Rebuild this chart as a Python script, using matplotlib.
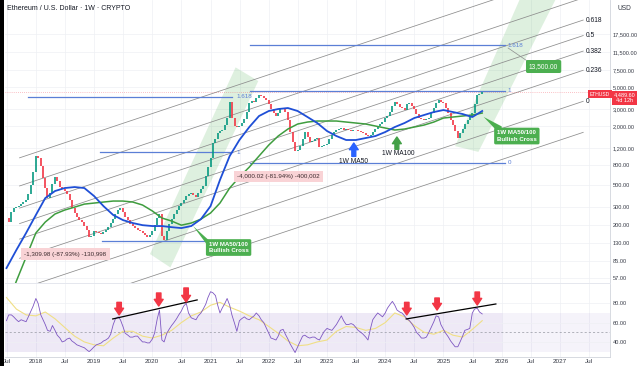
import numpy as np
import pandas as pd
import matplotlib
matplotlib.use('Agg')
import matplotlib.pyplot as plt
from matplotlib.patches import Polygon, Rectangle

plt.rcParams['font.family'] = ['Liberation Sans', 'DejaVu Sans']

# semi-monthly closes, Jul 2017 -> Sep 2025
closes = [233, 212, 268, 294, 301, 308, 323, 339, 355, 409,
          505, 685, 998, 952, 789, 595, 471, 372, 418, 517,
          609, 555, 482, 460, 439, 409, 355, 294, 262, 238,
          222, 212, 193, 175, 149, 152, 171, 168, 164, 160,
          167, 175, 188, 207, 227, 256, 281, 294, 268, 238,
          222, 202, 193, 184, 175, 171, 164, 156, 149, 156,
          171, 197, 233, 256, 152, 139, 171, 202, 227, 256,
          281, 308, 331, 355, 390, 409, 418, 399, 381, 418,
          460, 493, 624, 770, 952, 1354, 1487, 1712, 1795, 1837,
          2066, 2435, 3546, 2435, 2018, 1970, 2018, 2166, 2379, 2804,
          3464, 3631, 3560, 3896, 4180, 4083, 3896, 3717, 3383, 3008,
          2738, 2553, 2738, 3008, 3080, 2804, 2323, 1753, 1386, 1122,
          1149, 1262, 1487, 1753, 1559, 1386, 1419, 1487, 1523, 1233,
          1260, 1290, 1320, 1487, 1634, 1753, 1837, 1881, 1926, 1860,
          1881, 1837, 1795, 1837, 1850, 1795, 1753, 1712, 1634, 1596,
          1634, 1753, 1881, 2018, 2115, 2217, 2435, 2553, 2804, 3228,
          3546, 3383, 3153, 3080, 2938, 3383, 3464, 3228, 3008, 2675,
          2435, 2379, 2323, 2379, 2435, 2738, 3080, 3464, 3717, 3546,
          3464, 3080, 2738, 2323, 2066, 1795, 1523, 1712, 1881, 2115,
          2323, 2493, 2738, 3383, 4180, 4279, 4489.6]

rsi = [62, 68, 68, 66, 63, 61, 63, 62, 61, 66,
       72, 77, 85, 80, 68, 63, 58, 52, 51, 57,
       52, 47, 44, 40, 41, 43, 44, 41, 39, 37,
       36, 35, 34, 32, 30, 32, 35, 37, 38, 39,
       41, 42, 44, 48, 58, 64, 66, 63, 56, 49,
       47, 45, 45, 46, 46, 43, 40, 40, 39, 39,
       43, 49, 64, 73, 42, 40, 49, 53, 57, 60,
       64, 68, 72, 77, 80, 70, 65, 64, 63, 67,
       70, 74, 79, 86, 92, 91, 88, 78, 70, 75,
       80, 85, 78, 68, 59, 51, 62, 64, 66, 64,
       63, 65, 67, 70, 67, 63, 60, 55, 49, 44,
       43, 42, 46, 52, 53, 48, 43, 38, 33, 29,
       35, 40, 46, 47, 45, 44, 45, 45, 43, 42,
       47, 51, 54, 53, 52, 55, 58, 62, 67, 62,
       58, 58, 59, 58, 55, 52, 50, 48, 45, 42,
       54, 63, 67, 70, 68, 66, 70, 75, 79, 82,
       78, 73, 71, 70, 67, 64, 62, 59, 55, 50,
       47, 44, 44, 45, 50, 55, 61, 67, 66, 58,
       53, 49, 45, 41, 38, 35, 35, 40, 46, 52,
       53, 54, 70, 74, 75, 71, 69]

# two-monthly samples of the smoother lines
rsi_ma = [86, 74, 68, 67, 71, 64, 55, 46, 40, 37, 36, 44, 51, 51, 46, 44, 47, 52, 60, 67,
          71, 78, 81, 76, 72, 67, 63, 56, 49, 41, 36, 37, 40, 42, 51, 56, 55, 52, 54, 60,
          70, 66, 57, 50, 48, 52, 47, 45, 53, 62]
ma50 = [72, 110, 164, 250, 372, 439, 471, 482, 471, 390, 308, 250, 222, 207, 197, 193, 193, 188, 184, 193,
        227, 308, 569, 998, 1454, 1971, 2553, 2872, 3008, 3080, 2872, 2493, 2166, 1795, 1596, 1454, 1454, 1523, 1596, 1753,
        1971, 2166, 2435, 2615, 2804, 2938, 2804, 2675, 2493, 2872]
ma100 = [29, 53, 93, 164, 212, 256, 281, 301, 323, 331, 339, 347, 347, 339, 316, 275, 233, 217, 197, 207,
         227, 262, 331, 471, 609, 770, 998, 1292, 1596, 1881, 2115, 2217, 2270, 2270, 2270, 2217, 2166, 2115, 2018, 1926,
         1837, 1881, 1971, 2066, 2217, 2435, 2493, 2553, 2615, 2738]

price_ticks = [57, 85, 130, 200, 300, 500, 800, 1200, 2000, 3000, 5000, 7500, 11500, 17500]
time_ticks = [2017.5 + 0.5 * i for i in range(21)]
time_labels = ['Jul' if t % 1 else str(int(t)) for t in time_ticks]

def dec_year(d):
    return np.asarray(d.year + (d.dayofyear - 1) / 365.25, dtype=float)

x = dec_year(pd.date_range('2017-07-01', periods=len(closes), freq='SMS'))
xc = dec_year(pd.date_range('2017-07-01', periods=len(ma50), freq='2MS'))

W, H = 638, 366
fig = plt.figure(figsize=(W / 100, H / 100), dpi=100)
fig.patch.set_facecolor('white')
ax = fig.add_axes([5 / W, 1 - 283 / H, 605 / W, 283 / H])
rx = fig.add_axes([5 / W, 1 - 357 / H, 605 / W, 73 / H], sharex=ax)

grid_c = '#eef0f4'
txt_c = '#363a45'

ax.set_yscale('log')
ax.set_xlim(2017.47, 2027.86)
ax.set_ylim(50.7, 38870)
for t in time_ticks:
    ax.axvline(t, color=grid_c, lw=0.5, zorder=0)
    rx.axvline(t, color=grid_c, lw=0.5, zorder=0)
for p in price_ticks:
    ax.axhline(p, color=grid_c, lw=0.5, zorder=0)
ax.yaxis.tick_right()
ax.set_yticks(price_ticks)
ax.set_yticklabels([f'{p:,.2f}' for p in price_ticks])
ax.yaxis.set_minor_locator(matplotlib.ticker.NullLocator())
ax.tick_params(axis='y', length=0, labelsize=4.1, pad=2.2, colors=txt_c)
ax.tick_params(axis='x', length=0, labelbottom=False)
for s in ['left', 'top']:
    ax.spines[s].set_visible(False)
ax.spines['right'].set_color('#d1d4dc')
ax.spines['bottom'].set_color('#e0e3eb')
ax.spines['right'].set_linewidth(0.6)
ax.spines['bottom'].set_linewidth(0.6)

# green projection bands
band1 = [(2019.96, 100), (2020.31, 73), (2021.82, 5800), (2021.43, 8000)]
band2 = [(2025.20, 1260), (2025.60, 1100), (2026.95, 42000), (2026.33, 42000)]
for b in (band1, band2):
    ax.add_patch(Polygon(b, closed=True, facecolor='#4caf50', alpha=0.18, edgecolor='none', zorder=1))

# fib channel
chan_start, chan_end = 2017.72, 2027.40
chan_p0 = (43.7, 3606)
chan_w = 957 / 43.7
chan_levels = [-0.236, 0, 0.236, 0.382, 0.5, 0.618, 0.786, 1]
chan_labels = {0: '0', 0.236: '0.236', 0.382: '0.382', 0.5: '0.5', 0.618: '0.618'}
for lv in chan_levels:
    f = chan_w ** lv
    ax.plot([chan_start, chan_end], [chan_p0[0] * f, chan_p0[1] * f], color='#8c8c8c', lw=0.55, zorder=2)
    if lv in chan_labels:
        ax.text(chan_end + 0.04, chan_p0[1] * f, chan_labels[lv], fontsize=4.8, color='#131722',
                ha='left', va='center', zorder=6)

# fib retracements (horizontal)
fib_c = '#5b7fd6'
fib1_prices = [136, 1097, 3990]
fib1_labels = ['0', '1', '1.618']
fib1_x = [(2019.13, 2021.37), (2019.10, 2021.37), (2017.86, 2021.37)]
for p, lab, (x0, x1) in zip(fib1_prices, fib1_labels, fib1_x):
    ax.plot([x0, x1], [p, p], color=fib_c, lw=0.9, zorder=2)
    if lab != '0':
        ax.text(x1 + 0.08, p, lab, fontsize=4.5, color=fib_c, va='center', ha='left', zorder=6)
fib2_prices = [853, 4645, 13500]
fib2_labels = ['0', '1', '1.618']
for p, lab in zip(fib2_prices, fib2_labels):
    ax.plot([2021.68, 2026.06], [p, p], color=fib_c, lw=0.9, zorder=2)
    ax.text(2026.10, p, lab, fontsize=4.5, color=fib_c, va='center', ha='left', zorder=6)

# candles
opens = [closes[0]] + closes[:-1]
up = np.array(closes) >= np.array(opens)
lo = np.minimum(opens, closes)
hi = np.maximum(opens, closes)
ax.vlines(x[up], lo[up], hi[up], color='#089981', lw=1.2, zorder=4)
ax.vlines(x[~up], lo[~up], hi[~up], color='#f23645', lw=1.2, zorder=4)
ax.axhline(closes[-1], color='#f23645', lw=0.5, ls=(0, (1, 2)), alpha=0.6, zorder=3)

# moving averages
ax.plot(xc, ma100, color='#3f9d3f', lw=1.1, zorder=5)
ax.plot(xc, ma50, color='#1f4fd6', lw=1.3, zorder=5)

# annotations
def up_arrow(a, xx, tip, base, color):
    a.annotate('', xy=(xx, tip), xytext=(xx, base),
               arrowprops=dict(arrowstyle='simple,head_width=0.8,head_length=0.6,tail_width=0.35',
                               color=color, shrinkA=0, shrinkB=0, mutation_scale=8), zorder=7)

up_arrow(ax, 2023.46, 1355, 990, '#2962ff')
ax.text(2023.46, 880, '1W MA50', fontsize=4.8, color='#131722', ha='center', va='center', zorder=7)
up_arrow(ax, 2024.20, 1560, 1170, '#43a047')
ax.text(2024.22, 1060, '1W MA100', fontsize=4.8, color='#131722', ha='center', va='center', zorder=7)

green_box = dict(boxstyle='round,pad=0.45,rounding_size=0.25', facecolor='#4caf50', edgecolor='none')
ax.text(2026.72, 8160, '13,500.00', fontsize=4.8, color='white', ha='center', va='center', bbox=green_box, zorder=8)
ax.plot([2026.11, 2026.49], [12600, 8860], color='#8c8c8c', lw=0.5, zorder=6)

ax.add_patch(Polygon([(2025.69, 2500), (2026.0, 2000), (2026.0, 1600)], closed=True,
                     facecolor='#4caf50', edgecolor='none', zorder=7))
ax.text(2026.26, 1596, '1W MA50/100\nBullish Cross', fontsize=4.4, color='white', fontweight='bold',
        ha='center', va='center', linespacing=1.3, bbox=green_box, zorder=8)
ax.add_patch(Polygon([(2020.70, 193), (2020.96, 140), (2020.96, 120)], closed=True,
                     facecolor='#4caf50', edgecolor='none', zorder=7))
ax.text(2021.31, 116.6, '1W MA50/100\nBullish Cross', fontsize=4.4, color='white', fontweight='bold',
        ha='center', va='center', linespacing=1.3, bbox=green_box, zorder=8)

pink_box = dict(boxstyle='square,pad=0.5', facecolor='#f9d3d6', edgecolor='none')
ax.text(2018.51, 100, '-1,309.98 (-87.93%) -130,998', fontsize=4.5, color='#3b2a2d', ha='center', va='center',
        bbox=pink_box, zorder=8)
ax.text(2022.17, 617, '-4,000.02 (-81.94%) -400,002', fontsize=4.5, color='#3b2a2d', ha='center', va='center',
        bbox=pink_box, zorder=8)

# RSI pane
rx.set_ylim(24.4, 100)
rx.axhspan(30, 70, xmin=0, xmax=1, color='#7e57c2', alpha=0.07, lw=0, zorder=0)
rx.fill_between([2017.47, 2026.0], 30, 70, color='#7e57c2', alpha=0.06, lw=0, zorder=0)
rx.axhline(50, color='#9598a1', lw=0.5, ls=(0, (3, 3)), zorder=1)
for r in [40, 60, 80]:
    rx.axhline(r, color=grid_c, lw=0.5, zorder=0)
rx.plot(xc, rsi_ma, color='#f0df85', lw=0.8, zorder=2)
rx.plot(x, rsi, color='#7e57c2', lw=0.6, zorder=3)
rx.plot([2019.32, 2020.77], [63.8, 83.5], color='black', lw=0.9, zorder=4)
rx.plot([2024.36, 2025.90], [63.8, 79.3], color='black', lw=0.9, zorder=4)

red_arrows = [(2019.43, 81, 68), (2020.11, 90.7, 77.2), (2020.58, 95.9, 81.3),
              (2024.37, 81, 68), (2024.89, 85.5, 73), (2025.58, 91.7, 78.2)]
for xx, top, tip in red_arrows:
    rx.annotate('', xy=(xx, tip), xytext=(xx, top),
                arrowprops=dict(arrowstyle='simple,head_width=0.8,head_length=0.6,tail_width=0.4',
                                color='#f23645', shrinkA=0, shrinkB=0, mutation_scale=8), zorder=7)

rx.yaxis.tick_right()
rx.set_yticks([40, 60, 80])
rx.set_yticklabels(['40.00', '60.00', '80.00'])
rx.tick_params(axis='y', length=0, labelsize=4.1, pad=2.2, colors=txt_c)
rx.set_xticks(time_ticks)
rx.set_xticklabels(time_labels)
rx.tick_params(axis='x', length=0, labelsize=4.6, pad=1.5, colors=txt_c)
for s in ['left', 'top']:
    rx.spines[s].set_visible(False)
for s in ['right', 'bottom']:
    rx.spines[s].set_color('#d1d4dc')
    rx.spines[s].set_linewidth(0.6)

# header and price tags
fig.text(7 / W, 1 - 8 / H, 'Ethereum / U.S. Dollar · 1W · CRYPTO', fontsize=5.0, color='#131722', va='center')
fig.text(617 / W, 1 - 8 / H, 'USD', fontsize=4.8, color=txt_c, va='center')
fig.text(600 / W, 1 - 94 / H, 'ETHUSD', fontsize=3.6, color='white', ha='center', va='center',
         bbox=dict(boxstyle='square,pad=0.35', facecolor='#f23645', edgecolor='none'))
fig.text(624.5 / W, 1 - 98 / H, '4,489.60\n4d 12h', fontsize=4.0, color='white', ha='center', va='center',
         linespacing=1.2, bbox=dict(boxstyle='square,pad=0.35', facecolor='#f23645', edgecolor='none'))
fig.patches.append(Rectangle((0, 0), 4 / W, 1, transform=fig.transFigure, facecolor='black',
                             edgecolor='none', zorder=10))

fig.savefig('out.png', dpi=100)
